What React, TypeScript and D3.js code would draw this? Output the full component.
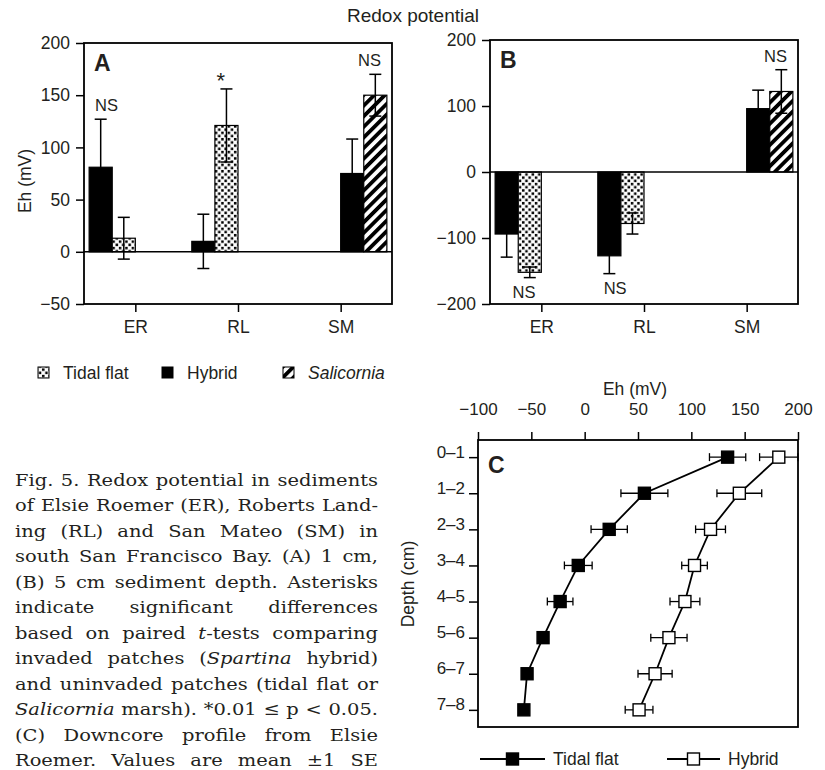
import React, { useEffect, useRef } from "react";
import * as d3 from "d3";

const sites = ["ER", "RL", "SM"];

// (A) 1 cm depth
const hybridA = [81, 10, 75];
const hybridAse = [46, 26, 33];
const nativeA = [13, 121, 150];
const nativeAse = [20, 35, 20];
const sigA = ["NS", "*", "NS"];

// (B) 5 cm depth
const hybridB = [-94, -127, 96];
const hybridBse = [35, 27, 28];
const nativeB = [-152, -78, 122];
const nativeBse = [8, 16, 33];
const sigB = ["NS", "NS", "NS"];

// uninvaded habitat at each site
const nativeKind = ["tidal", "tidal", "salicornia"];

// (C) downcore profile, Elsie Roemer
const depths = ["0–1", "1–2", "2–3", "3–4", "4–5", "5–6", "6–7", "7–8"];
const tidalC = [134, 56, 23, -6, -23, -39, -54, -57];
const tidalCse = [17, 22, 17, 13, 12, 4, 3, 3];
const hybridC = [182, 145, 118, 103, 94, 79, 66, 51];
const hybridCse = [18, 21, 14, 12, 14, 17, 16, 13];

const ticksA = [-50, 0, 50, 100, 150, 200];
const ticksB = [-200, -100, 0, 100, 200];
const ticksC = [-100, -50, 0, 50, 100, 150, 200];

// caption, _x_ = italic
const caption = [
  "Fig. 5. Redox potential in sediments",
  "of Elsie Roemer (ER), Roberts Land-",
  "ing (RL) and San Mateo (SM) in",
  "south San Francisco Bay. (A) 1 cm,",
  "(B) 5 cm sediment depth. Asterisks",
  "indicate significant differences",
  "based on paired _t_-tests comparing",
  "invaded patches (_Spartina_ hybrid)",
  "and uninvaded patches (tidal flat or",
  "_Salicornia_ marsh). *0.01 ≤ p < 0.05.",
  "(C) Downcore profile from Elsie",
  "Roemer. Values are mean ±1 SE",
];

const INK = "#231f20";
const SANS = "'Liberation Sans', Arial, sans-serif";
const SERIF = "'DejaVu Serif', serif";
const FS = 17.5;

function barPanel(svg, o) {
  const x = d3.scalePoint().domain(sites).range([o.left, o.left + o.width]).padding(0.5);
  const y = d3.scaleLinear().domain(o.domain).range([o.top + o.height, o.top]);
  const barW = x.step() * 0.225;
  // ER/RL pairs sit left of their tick, SM pair right of it (as printed)
  const start = (s) => (s === "SM" ? x(s) : x(s) - 2 * barW);

  const g = svg.append("g");

  const bars = [];
  sites.forEach((s, i) => {
    bars.push({ x0: start(s), v: o.hybrid[i], se: o.hybridSe[i], fill: "#000" });
    bars.push({
      x0: start(s) + barW,
      v: o.native[i],
      se: o.nativeSe[i],
      fill: nativeKind[i] === "tidal" ? "url(#dots)" : "url(#hatch)",
    });
  });

  g.selectAll("rect.bar")
    .data(bars)
    .enter()
    .append("rect")
    .attr("x", (d) => d.x0)
    .attr("y", (d) => Math.min(y(d.v), y(0)))
    .attr("width", barW)
    .attr("height", (d) => Math.abs(y(d.v) - y(0)))
    .attr("fill", (d) => d.fill)
    .attr("stroke", "#000")
    .attr("stroke-width", 1.2);

  // error bars
  const eb = g.selectAll("g.err").data(bars).enter().append("g").attr("stroke", "#000").attr("stroke-width", 1.5);
  eb.append("line")
    .attr("x1", (d) => d.x0 + barW / 2)
    .attr("x2", (d) => d.x0 + barW / 2)
    .attr("y1", (d) => y(d.v - d.se))
    .attr("y2", (d) => y(d.v + d.se));
  [-1, 1].forEach((k) => {
    eb.append("line")
      .attr("x1", (d) => d.x0 + barW / 2 - 6)
      .attr("x2", (d) => d.x0 + barW / 2 + 6)
      .attr("y1", (d) => y(d.v + k * d.se))
      .attr("y2", (d) => y(d.v + k * d.se));
  });

  // zero line + frame
  g.append("line")
    .attr("x1", o.left).attr("x2", o.left + o.width)
    .attr("y1", y(0)).attr("y2", y(0))
    .attr("stroke", "#000").attr("stroke-width", 1.5);
  g.append("rect")
    .attr("x", o.left).attr("y", o.top)
    .attr("width", o.width).attr("height", o.height)
    .attr("fill", "none").attr("stroke", "#000").attr("stroke-width", 1.8);

  const yAxis = g.append("g")
    .attr("transform", `translate(${o.left},0)`)
    .call(d3.axisLeft(y).tickValues(o.ticks).tickSize(8).tickPadding(6));
  const xAxis = g.append("g")
    .attr("transform", `translate(0,${o.top + o.height})`)
    .call(d3.axisBottom(x).tickSize(8).tickPadding(9));
  [yAxis, xAxis].forEach((a) => {
    a.select(".domain").remove();
    a.selectAll("line").attr("stroke", "#000").attr("stroke-width", 1.5);
    a.selectAll("text").attr("font-family", SANS).attr("font-size", FS).attr("fill", INK);
  });

  // significance labels
  sites.forEach((s, i) => {
    const hiH = o.hybrid[i] + Math.sign(o.hybrid[i]) * o.hybridSe[i];
    const hiN = o.native[i] + Math.sign(o.native[i]) * o.nativeSe[i];
    const useN = Math.abs(hiN) > Math.abs(hiH);
    const ext = useN ? hiN : hiH;
    const barC = start(s) + (useN ? 1.5 : 0.5) * barW;
    const pairC = start(s) + barW;
    const cx = (barC + pairC) / 2;
    const star = o.sig[i] === "*";
    const ty = ext > 0 ? y(ext) - (star ? 1 : 8) : y(ext) + 20;
    g.append("text")
      .attr("x", cx).attr("y", ty)
      .attr("text-anchor", "middle")
      .attr("font-family", SANS).attr("font-size", star ? 22 : 16.5).attr("fill", INK)
      .text(o.sig[i]);
  });

  g.append("text")
    .attr("x", o.left + 10).attr("y", o.top + 28)
    .attr("font-family", SANS).attr("font-weight", "bold").attr("font-size", 23).attr("fill", INK)
    .text(o.letter);
}

function App() {
  const svgRef = useRef(null);

  useEffect(() => {
    document.body.style.margin = "0";
    const svg = d3.select(svgRef.current);
    svg.selectAll("*").remove();

    const defs = svg.append("defs");
    const dots = defs.append("pattern").attr("id", "dots")
      .attr("patternUnits", "userSpaceOnUse").attr("width", 6.4).attr("height", 6.4);
    dots.append("rect").attr("width", 6.4).attr("height", 6.4).attr("fill", "#fff");
    dots.append("rect").attr("x", 0.4).attr("y", 0.4).attr("width", 2.5).attr("height", 2.5).attr("fill", "#000");
    dots.append("rect").attr("x", 3.6).attr("y", 3.6).attr("width", 2.5).attr("height", 2.5).attr("fill", "#000");
    const hatch = defs.append("pattern").attr("id", "hatch")
      .attr("patternUnits", "userSpaceOnUse").attr("width", 7.5).attr("height", 7.5)
      .attr("patternTransform", "rotate(45)");
    hatch.append("rect").attr("width", 7.5).attr("height", 7.5).attr("fill", "#fff");
    hatch.append("rect").attr("width", 3.8).attr("height", 7.5).attr("fill", "#000");

    svg.append("text")
      .attr("x", 413).attr("y", 22).attr("text-anchor", "middle")
      .attr("font-family", SANS).attr("font-size", 19).attr("fill", INK)
      .text("Redox potential");

    barPanel(svg, {
      left: 84, top: 43, width: 308, height: 261, domain: [-50, 200], ticks: ticksA,
      hybrid: hybridA, hybridSe: hybridAse, native: nativeA, nativeSe: nativeAse, sig: sigA, letter: "A",
    });
    barPanel(svg, {
      left: 490, top: 40, width: 308, height: 264, domain: [-200, 200], ticks: ticksB,
      hybrid: hybridB, hybridSe: hybridBse, native: nativeB, nativeSe: nativeBse, sig: sigB, letter: "B",
    });

    svg.append("text")
      .attr("transform", "translate(31,181) rotate(-90)")
      .attr("text-anchor", "middle")
      .attr("font-family", SANS).attr("font-size", FS).attr("fill", INK)
      .text("Eh (mV)");

    // legend for A/B
    const legend = [
      { fill: "url(#dots)", x: 38, label: "Tidal flat", italic: false },
      { fill: "#000", x: 162, label: "Hybrid", italic: false },
      { fill: "url(#hatch)", x: 283, label: "Salicornia", italic: true },
    ];
    const lg = svg.append("g").selectAll("g").data(legend).enter().append("g");
    lg.append("rect")
      .attr("x", (d) => d.x).attr("y", 367).attr("width", 11).attr("height", 11)
      .attr("fill", (d) => d.fill).attr("stroke", "#000").attr("stroke-width", 1);
    lg.append("text")
      .attr("x", (d) => d.x + 25).attr("y", 379)
      .attr("font-family", SANS).attr("font-size", FS).attr("fill", INK)
      .attr("font-style", (d) => (d.italic ? "italic" : "normal"))
      .text((d) => d.label);

    // panel C
    const cx = d3.scaleLinear().domain([-100, 200]).range([478, 798]);
    const cy = d3.scalePoint().domain(depths).range([440, 727]).padding(0.475);
    const gc = svg.append("g");

    const series = [
      { v: tidalC, se: tidalCse, fill: "#000" },
      { v: hybridC, se: hybridCse, fill: "#fff" },
    ];
    const line = d3.line().x((d) => cx(d[0])).y((d) => cy(d[1]));
    series.forEach((s) => {
      const pts = s.v.map((v, i) => ({ v, se: s.se[i], d: depths[i] }));
      const eg = gc.append("g").attr("stroke", "#000").attr("stroke-width", 1.3);
      pts.forEach((p) => {
        eg.append("line").attr("x1", cx(p.v - p.se)).attr("x2", cx(p.v + p.se)).attr("y1", cy(p.d)).attr("y2", cy(p.d));
        [-1, 1].forEach((k) => {
          eg.append("line")
            .attr("x1", cx(p.v + k * p.se)).attr("x2", cx(p.v + k * p.se))
            .attr("y1", cy(p.d) - 4).attr("y2", cy(p.d) + 4);
        });
      });
      gc.append("path")
        .attr("d", line(pts.map((p) => [p.v, p.d])))
        .attr("fill", "none").attr("stroke", "#000").attr("stroke-width", 1.8);
      gc.selectAll(null).data(pts).enter().append("rect")
        .attr("x", (p) => cx(p.v) - 6).attr("y", (p) => cy(p.d) - 6)
        .attr("width", 12).attr("height", 12)
        .attr("fill", s.fill).attr("stroke", "#000").attr("stroke-width", 1.4);
    });

    gc.append("rect")
      .attr("x", 478).attr("y", 440).attr("width", 320).attr("height", 287)
      .attr("fill", "none").attr("stroke", "#000").attr("stroke-width", 1.8);

    const topAx = gc.append("g").attr("transform", "translate(0,440)")
      .call(d3.axisTop(cx).tickValues(ticksC).tickSize(8).tickPadding(17));
    const leftAx = gc.append("g").attr("transform", "translate(478,0)")
      .call(d3.axisLeft(cy).tickSize(9).tickPadding(4));
    [topAx, leftAx].forEach((a) => {
      a.select(".domain").remove();
      a.selectAll("line").attr("stroke", "#000").attr("stroke-width", 1.5);
      a.selectAll("text").attr("font-family", SANS).attr("font-size", 17).attr("fill", INK);
    });
    leftAx.selectAll("text").attr("dy", "0em");

    gc.append("text")
      .attr("x", 635).attr("y", 395).attr("text-anchor", "middle")
      .attr("font-family", SANS).attr("font-size", FS).attr("fill", INK)
      .text("Eh (mV)");
    gc.append("text")
      .attr("transform", "translate(414,584) rotate(-90)")
      .attr("text-anchor", "middle")
      .attr("font-family", SANS).attr("font-size", FS).attr("fill", INK)
      .text("Depth (cm)");
    gc.append("text")
      .attr("x", 488).attr("y", 473)
      .attr("font-family", SANS).attr("font-weight", "bold").attr("font-size", 23).attr("fill", INK)
      .text("C");

    // legend for C
    const lc = [
      { x1: 480, x2: 545, label: "Tidal flat", fill: "#000" },
      { x1: 667, x2: 720, label: "Hybrid", fill: "#fff" },
    ];
    lc.forEach((d) => {
      gc.append("line").attr("x1", d.x1).attr("x2", d.x2).attr("y1", 759).attr("y2", 759)
        .attr("stroke", "#000").attr("stroke-width", 1.8);
      gc.append("rect").attr("x", (d.x1 + d.x2) / 2 - 6).attr("y", 753).attr("width", 12).attr("height", 12)
        .attr("fill", d.fill).attr("stroke", "#000").attr("stroke-width", 1.4);
      gc.append("text").attr("x", d.x2 + 8).attr("y", 765)
        .attr("font-family", SANS).attr("font-size", FS).attr("fill", INK)
        .text(d.label);
    });

    // justified caption; the printed face is wider than DejaVu Serif,
    // so the block is stretched horizontally to fit the column
    const ctx = document.createElement("canvas").getContext("2d");
    const words = caption.map((ln) =>
      ln.split(" ").map((w) => w.split("_").map((t, i) => ({ t, it: i % 2 === 1 })).filter((r) => r.t.length))
    );
    const x0 = 15, x1 = 378, fs = 17.5, minGap = 6;
    const measure = (runs) =>
      d3.sum(runs, (r) => {
        ctx.font = `${r.it ? "italic " : ""}${fs}px 'DejaVu Serif'`;
        return ctx.measureText(r.t).width;
      });
    const wls = words.map((ws) => ws.map(measure));
    const need = d3.max(wls, (wl) => d3.sum(wl) + minGap * (wl.length - 1));
    const sx = Math.min(1.2, (x1 - x0) / need);
    const span = (x1 - x0) / sx;
    const cap = svg.append("g")
      .attr("transform", `translate(${x0},0) scale(${sx},1)`)
      .attr("font-family", SERIF).attr("font-size", fs).attr("fill", INK);
    words.forEach((ws, li) => {
      const wl = wls[li];
      const gap = (span - d3.sum(wl)) / (ws.length - 1);
      let xx = 0;
      ws.forEach((w, wi) => {
        const t = cap.append("text").attr("x", xx).attr("y", 486 + li * 25.5);
        w.forEach((r) => t.append("tspan").attr("font-style", r.it ? "italic" : "normal").text(r.t));
        xx += wl[wi] + gap;
      });
    });
  }, []);

  return <svg ref={svgRef} width={825} height={770} style={{ display: "block" }} />;
}

export default App;
